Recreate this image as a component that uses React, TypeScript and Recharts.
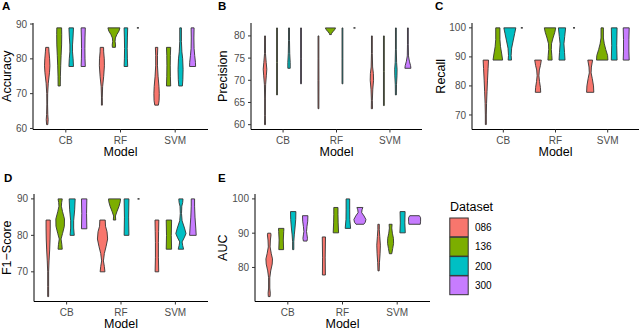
import React from "react";
import { BarChart, Bar, XAxis, YAxis } from "recharts";

type Profile = [number, number][];

const models = ["CB", "RF", "SVM"];
const datasets = ["086", "136", "200", "300"];
const palette = ["#F8766D", "#7CAE00", "#00BFC4", "#C77CFF"];

// violin outlines as [value, relative width], one profile per model (CB, RF, SVM)
const acc086: Profile[] = [
  [[61.1, 0.1], [62.5, 0.16], [64, 0.1], [67, 0.06], [70, 0.08], [73, 0.18], [76, 0.38], [78, 0.45], [80, 0.4], [82, 0.3], [83.3, 0.25]],
  [[66.7, 0.08], [69, 0.07], [72, 0.12], [75, 0.3], [78, 0.42], [80, 0.4], [82, 0.3], [83.3, 0.28]],
  [[66.7, 0.3], [68, 0.42], [70, 0.45], [72, 0.4], [75, 0.25], [78, 0.15], [81, 0.15], [83.3, 0.2]],
];
const acc136: Profile[] = [
  [[72.2, 0.18], [75, 0.2], [78, 0.25], [81, 0.32], [84, 0.4], [87, 0.42], [88.9, 0.4]],
  [[83.3, 0.25], [84, 0.28], [85, 0.2], [86, 0.25], [87, 0.5], [88, 0.85], [88.9, 1.0]],
  [[72.2, 0.35], [75, 0.3], [78, 0.28], [81, 0.3], [83.3, 0.35]],
];
const acc200: Profile[] = [
  [[77.8, 0.38], [80, 0.32], [82, 0.22], [84, 0.22], [86, 0.3], [88.9, 0.38]],
  [[77.8, 0.3], [80, 0.25], [83, 0.22], [86, 0.25], [88.9, 0.3]],
  [[72.2, 0.3], [74, 0.38], [77, 0.42], [80, 0.35], [82, 0.22], [85, 0.14], [88.9, 0.14]],
];
const acc300: Profile[] = [
  [[77.8, 0.35], [80, 0.3], [83, 0.28], [86, 0.3], [88.9, 0.35]],
  [[88.9, 0]],
  [[77.8, 0.5], [79, 0.48], [81, 0.35], [83, 0.25], [86, 0.22], [88.9, 0.25]],
];

const prec086: Profile[] = [
  [[60, 0.08], [62, 0.06], [66, 0.06], [69, 0.1], [71, 0.22], [72.5, 0.3], [74, 0.2], [76, 0.08], [80, 0.07]],
  [[63.6, 0.07], [70, 0.08], [75, 0.07], [80, 0.07]],
  [[63.6, 0.1], [65.5, 0.08], [68, 0.15], [70, 0.28], [71.5, 0.25], [73, 0.12], [76, 0.07], [80, 0.07]],
];
const prec136: Profile[] = [
  [[66.7, 0.07], [74, 0.07], [81.8, 0.07]],
  [[80.3, 0.15], [80.6, 0.2], [81, 0.45], [81.4, 0.7], [81.8, 0.85]],
  [[64.3, 0.07], [72, 0.07], [80, 0.07]],
];
const prec200: Profile[] = [
  [[72.7, 0.2], [74, 0.2], [76, 0.12], [79, 0.08], [81.8, 0.08]],
  [[69.2, 0.07], [75, 0.07], [81.8, 0.07]],
  [[66.7, 0.08], [69, 0.1], [71, 0.18], [72.5, 0.2], [74, 0.12], [77, 0.07], [81.8, 0.07]],
];
const prec300: Profile[] = [
  [[69.2, 0.07], [75, 0.07], [81.8, 0.07]],
  [[81.8, 0]],
  [[72.7, 0.5], [73.3, 0.45], [74.3, 0.25], [75.5, 0.1], [78, 0.07], [81.8, 0.07]],
];

const rec086: Profile[] = [
  [[66.7, 0.08], [70, 0.08], [74, 0.12], [78, 0.2], [82, 0.28], [86, 0.38], [88.9, 0.45]],
  [[77.8, 0.45], [79.5, 0.4], [81.5, 0.25], [83.5, 0.15], [85.5, 0.22], [87, 0.4], [88.9, 0.55]],
  [[77.8, 0.6], [80, 0.55], [82.5, 0.35], [84.5, 0.15], [86.5, 0.2], [88.9, 0.4]],
];
const rec136: Profile[] = [
  [[88.9, 0.8], [91, 0.65], [93.5, 0.45], [96, 0.35], [100, 0.35]],
  [[88.9, 0.35], [90.5, 0.3], [92.5, 0.22], [94.5, 0.25], [96.5, 0.5], [98.5, 0.8], [100, 0.95]],
  [[88.9, 0.95], [90.5, 0.9], [92.5, 0.6], [94.5, 0.35], [96.5, 0.2], [100, 0.2]],
];
const rec200: Profile[] = [
  [[88.9, 0.28], [90.5, 0.22], [93, 0.3], [95.5, 0.55], [98, 0.8], [100, 1.0]],
  [[88.9, 0.5], [91.5, 0.42], [94.5, 0.32], [97, 0.45], [100, 0.6]],
  [[88.9, 0.48], [94, 0.42], [100, 0.48]],
];
const rec300: Profile[] = [
  [[100, 0]],
  [[100, 0]],
  [[88.9, 0.5], [92, 0.45], [96, 0.45], [100, 0.5]],
];

const f1086: Profile[] = [
  [[63.2, 0.08], [66, 0.08], [70, 0.08], [73, 0.15], [76, 0.25], [79, 0.32], [82, 0.35], [84.2, 0.35]],
  [[70, 0.4], [71.5, 0.3], [73, 0.15], [75, 0.3], [77, 0.6], [79, 0.85], [81, 0.75], [82.5, 0.5], [84.2, 0.45]],
  [[70, 0.3], [74, 0.25], [78, 0.25], [81, 0.28], [84.2, 0.32]],
];
const f1136: Profile[] = [
  [[76.2, 0.35], [77.5, 0.28], [79, 0.15], [80.5, 0.4], [82.5, 0.7], [84.5, 0.72], [86.5, 0.4], [88, 0.2], [89, 0.25], [90, 0.35]],
  [[84.2, 0.2], [85.3, 0.15], [86.5, 0.4], [88, 0.75], [89.2, 0.95], [90, 1.0]],
  [[76.2, 0.45], [80, 0.4], [84.2, 0.45]],
];
const f1200: Profile[] = [
  [[80, 0.35], [82, 0.25], [84, 0.25], [87, 0.42], [90, 0.5]],
  [[80, 0.4], [85, 0.35], [90, 0.4]],
  [[76.2, 0.45], [77.2, 0.3], [78.2, 0.2], [79.5, 0.6], [80.5, 0.85], [82, 0.6], [84, 0.2], [86, 0.1], [88, 0.15], [89, 0.3], [90, 0.35]],
];
const f1300: Profile[] = [
  [[81.8, 0.45], [86, 0.4], [90, 0.45]],
  [[90, 0]],
  [[80, 0.55], [82, 0.48], [85, 0.35], [88, 0.28], [90, 0.28]],
];

const auc086: Profile[] = [
  [[71.5, 0.15], [72.5, 0.18], [74, 0.1], [77, 0.1], [79, 0.25], [81, 0.5], [82.5, 0.55], [84, 0.35], [86, 0.15], [88, 0.2], [89.5, 0.3], [90, 0.25]],
  [[77.8, 0.25], [83, 0.22], [88.9, 0.27]],
  [[79, 0.1], [81.5, 0.15], [84, 0.25], [86.5, 0.3], [89, 0.2], [91, 0.12], [92.6, 0.12]],
];
const auc136: Profile[] = [
  [[85.2, 0.4], [88, 0.35], [90.5, 0.42], [91.4, 0.45]],
  [[90.1, 0.45], [93, 0.38], [95.5, 0.35], [97.5, 0.35]],
  [[84, 0.2], [85.5, 0.35], [87, 0.5], [88.5, 0.48], [90, 0.3], [91.5, 0.2], [92.6, 0.25]],
];
const auc200: Profile[] = [
  [[85.2, 0.1], [87.5, 0.1], [89.5, 0.18], [91.5, 0.3], [94, 0.42], [96.3, 0.45]],
  [[91.4, 0.45], [94, 0.32], [97, 0.3], [100, 0.3]],
  [[90.1, 0.45], [93, 0.38], [96.3, 0.42]],
];
const auc300: Profile[] = [
  [[87.7, 0.3], [88.5, 0.38], [89.5, 0.3], [90.5, 0.22], [92, 0.3], [93.5, 0.42], [95.1, 0.45]],
  [[92.6, 0.65], [93.2, 0.9], [94, 1.0], [95, 0.7], [96, 0.3], [96.8, 0.35], [97.5, 0.5]],
  [[92.6, 0.95], [93.5, 1.0], [94.5, 1.0], [95.1, 0.8]],
];

const accTicks = [60, 70, 80, 90];
const precTicks = [60, 65, 70, 75, 80];
const recTicks = [70, 80, 90, 100];
const f1Ticks = [70, 80, 90];
const aucTicks = [80, 90, 100];

const FONT = "'Liberation Sans', Arial, sans-serif";

const buildRows = (series: Profile[][]) =>
  models.map((m, i) => {
    const row: any = { model: m };
    datasets.forEach((d, j) => {
      row["d" + d] = series[j][i];
    });
    return row;
  });

const rangeOf = (key: string) => (row: any) => {
  const p: Profile = row[key];
  return [p[0][0], p[p.length - 1][0]];
};

// draws the violin inside the slot that the range bar gets from the scales
const violin = (fill: string, key: string) => (props: any) => {
  const { x, y, width, height, payload } = props;
  const prof: Profile = payload[key];
  const lo = prof[0][0];
  const hi = prof[prof.length - 1][0];
  const top = Math.min(y, y + height);
  const bot = Math.max(y, y + height);
  const cx = x + width / 2;
  if (hi === lo) {
    return <rect x={cx - 1} y={top - 0.75} width={2} height={1.5} fill="#333" />;
  }
  const py = (v: number) => bot - ((v - lo) / (hi - lo)) * (bot - top);
  const half = width / 2;
  const right = prof.map(([v, w]) => `${cx + w * half},${py(v)}`);
  const left = [...prof].reverse().map(([v, w]) => `${cx - w * half},${py(v)}`);
  return (
    <polygon
      points={[...right, ...left].join(" ")}
      fill={fill}
      stroke="#333"
      strokeWidth={0.9}
      strokeLinejoin="round"
    />
  );
};

const yTitle = (text: string, dx: number) => (props: any) => {
  const vb = props.viewBox;
  const cx = vb.x + dx;
  const cy = vb.y + vb.height / 2;
  return (
    <text
      x={cx}
      y={cy}
      transform={`rotate(-90 ${cx} ${cy})`}
      textAnchor="middle"
      dominantBaseline="central"
      fontSize={12.5}
      fill="#000"
      fontFamily={FONT}
    >
      {text}
    </text>
  );
};

const xTitle = (props: any) => {
  const vb = props.viewBox;
  return (
    <text
      x={vb.x + vb.width / 2}
      y={vb.y + 22}
      textAnchor="middle"
      dominantBaseline="central"
      fontSize={12.5}
      fill="#000"
      fontFamily={FONT}
    >
      Model
    </text>
  );
};

interface PanelProps {
  left: number;
  top: number;
  width: number;
  height: number;
  axisW: number;
  xH: number;
  margin: { top: number; right: number; bottom: number; left: number };
  domain: [number, number];
  ticks: number[];
  title: string;
  titleDx: number;
  series: Profile[][];
}

const Panel = ({ left, top, width, height, axisW, xH, margin, domain, ticks, title, titleDx, series }: PanelProps) => {
  const plotW = width - margin.left - margin.right - axisW;
  const pad = plotW * 0.03125;
  const rows = buildRows(series);
  return (
    <div style={{ position: "absolute", left, top }}>
      <BarChart
        width={width}
        height={height}
        data={rows}
        margin={margin}
        barCategoryGap="5%"
        barGap={0}
      >
        <XAxis
          dataKey="model"
          padding={{ left: pad, right: pad }}
          height={xH}
          tickSize={3}
          tickMargin={4}
          interval={0}
          axisLine={{ stroke: "#000", strokeWidth: 1 }}
          tickLine={{ stroke: "#333" }}
          tick={{ fontSize: 10, fill: "#4D4D4D", fontFamily: FONT }}
          label={xTitle}
        />
        <YAxis
          type="number"
          domain={domain}
          ticks={ticks}
          allowDataOverflow
          width={axisW}
          tickSize={3}
          tickMargin={3}
          interval={0}
          axisLine={{ stroke: "#000", strokeWidth: 1 }}
          tickLine={{ stroke: "#333" }}
          tick={{ fontSize: 10, fill: "#4D4D4D", fontFamily: FONT }}
          label={yTitle(title, titleDx)}
        />
        {datasets.map((d, j) => (
          <Bar
            key={d}
            dataKey={rangeOf("d" + d)}
            name={d}
            fill={palette[j]}
            isAnimationActive={false}
            shape={violin(palette[j], "d" + d)}
          />
        ))}
      </BarChart>
    </div>
  );
};

const tags = [
  { t: "A", x: 2, y: 10 },
  { t: "B", x: 218, y: 10 },
  { t: "C", x: 435, y: 10 },
  { t: "D", x: 4, y: 182 },
  { t: "E", x: 218, y: 182 },
];

const App = () => {
  return (
    <div style={{ position: "absolute", left: 0, top: 0, width: 640, height: 330, background: "#fff", overflow: "hidden" }}>
      <Panel left={0} top={0} width={210} height={162} axisW={33} xH={30}
        margin={{ top: 23, right: 2, bottom: 2.5, left: 0 }}
        domain={[59.7, 90.3]} ticks={accTicks} title="Accuracy" titleDx={7}
        series={[acc086, acc136, acc200, acc300]} />
      <Panel left={205} top={0} width={220} height={162} axisW={46} xH={30}
        margin={{ top: 23, right: 3, bottom: 2.5, left: 0 }}
        domain={[58.91, 82.91]} ticks={precTicks} title="Precision" titleDx={18}
        series={[prec086, prec136, prec200, prec300]} />
      <Panel left={420} top={0} width={220} height={162} axisW={52} xH={30}
        margin={{ top: 23, right: 1, bottom: 2.5, left: 0 }}
        domain={[65, 101.67]} ticks={recTicks} title="Recall" titleDx={21}
        series={[rec086, rec136, rec200, rec300]} />
      <Panel left={0} top={165} width={210} height={165} axisW={34} xH={28.5}
        margin={{ top: 29, right: 2, bottom: 0, left: 0 }}
        domain={[61.86, 91.34]} ticks={f1Ticks} title={"F1\u2212Score"} titleDx={7}
        series={[f1086, f1136, f1200, f1300]} />
      <Panel left={205} top={165} width={230} height={165} axisW={50} xH={28.5}
        margin={{ top: 29, right: 5, bottom: 0, left: 0 }}
        domain={[70.07, 101.43]} ticks={aucTicks} title="AUC" titleDx={18}
        series={[auc086, auc136, auc200, auc300]} />
      <svg width={640} height={330} style={{ position: "absolute", left: 0, top: 0, pointerEvents: "none" }}>
        {tags.map((g) => (
          <text key={g.t} x={g.x} y={g.y} fontSize={11.5} fontWeight="bold" fontFamily={FONT} fill="#000">
            {g.t}
          </text>
        ))}
        <text x={450} y={211} fontSize={12.5} fontFamily={FONT} fill="#000">
          Dataset
        </text>
        {datasets.map((d, j) => (
          <g key={d}>
            <rect x={449.8} y={218 + j * 19.3} width={18.4} height={18.8} fill={palette[j]} stroke="#333" strokeWidth={1} />
            <text x={475} y={218 + j * 19.3 + 9.6} dominantBaseline="central" fontSize={10} fontFamily={FONT} fill="#000">
              {d}
            </text>
          </g>
        ))}
      </svg>
    </div>
  );
};

export default App;
